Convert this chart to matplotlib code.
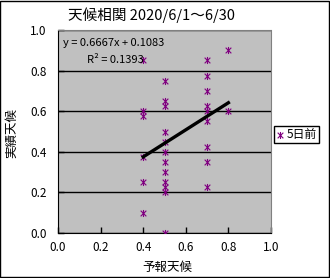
"""Forecast vs. actual weather correlation scatter (5-day-ahead forecast)."""

import matplotlib

matplotlib.use("Agg")
import matplotlib.pyplot as plt
from matplotlib.path import Path
from matplotlib.patches import Rectangle

plt.rcParams["font.family"] = ["Noto Sans CJK JP", "DejaVu Sans"]

# values
forecast_04 = [0.85, 0.6, 0.575, 0.375, 0.25, 0.1]
forecast_05 = [0.75, 0.65, 0.625, 0.5, 0.45, 0.4, 0.35, 0.3, 0.25, 0.225, 0.2, 0.0]
forecast_07 = [0.85, 0.775, 0.7, 0.625, 0.6, 0.55, 0.425, 0.35, 0.225]
forecast_08 = [0.9, 0.6]

forecast = [0.4] * len(forecast_04) + [0.5] * len(forecast_05) + [0.7] * len(forecast_07) + [0.8] * len(forecast_08)
actual = forecast_04 + forecast_05 + forecast_07 + forecast_08

slope = 0.6667
intercept = 0.1083
r_squared = 0.1393

title = "天候相関 2020/6/1～6/30"
x_label = "予報天候"
y_label = "実績天候"
series_name = "5日前"
ticks = [0.0, 0.2, 0.4, 0.6, 0.8, 1.0]

PURPLE = "#800080"

# Excel style star: an X with a vertical bar through it
star = Path(
    [(-1, -1), (1, 1), (-1, 1), (1, -1), (0, -1.25), (0, 1.25)],
    [Path.MOVETO, Path.LINETO, Path.MOVETO, Path.LINETO, Path.MOVETO, Path.LINETO],
)


def main() -> None:
    fig = plt.figure(figsize=(3.3, 2.78), dpi=100)
    fig.patch.set_facecolor("white")
    fig.patches.append(Rectangle((0.0015, 0.002), 0.996, 0.995, transform=fig.transFigure,
                                 fill=False, edgecolor="black", linewidth=1))

    ax = fig.add_axes([58 / 330, 1 - 233 / 278, 213 / 330, 203 / 278])
    ax.set_facecolor("#C0C0C0")
    ax.set_xlim(0, 1)
    ax.set_ylim(0, 1)
    ax.set_xticks(ticks)
    ax.set_yticks(ticks)
    ax.set_xticklabels([f"{t:.1f}" for t in ticks])
    ax.set_yticklabels([f"{t:.1f}" for t in ticks])
    ax.tick_params(axis="both", direction="in", length=4, width=1, color="black", labelsize=8.5)
    ax.tick_params(axis="x", pad=6)
    ax.tick_params(axis="y", pad=8)
    ax.grid(axis="y", color="black", linewidth=1)
    ax.set_axisbelow(True)
    for side in ("left", "bottom"):
        ax.spines[side].set_color("black")
    for side in ("top", "right"):
        ax.spines[side].set_color("#808080")
        ax.spines[side].set_linestyle((0, (1, 1)))

    ax.scatter(forecast, actual, marker=star, s=26, color=PURPLE, linewidths=0.8, zorder=3, label=series_name)

    x_lo, x_hi = min(forecast), max(forecast)
    ax.plot([x_lo, x_hi], [slope * x_lo + intercept, slope * x_hi + intercept],
            color="black", linewidth=2.4, zorder=4)

    ax.text(0.022, 0.935, f"y = {slope:.4f}x + {intercept:.4f}", transform=ax.transAxes,
            fontsize=8, va="center", ha="left")
    ax.text(0.135, 0.85, f"R² = {r_squared:.4f}", transform=ax.transAxes,
            fontsize=8, va="center", ha="left")

    fig.text(151 / 330, 1 - 15 / 278, title, fontsize=10.5, ha="center", va="center")
    fig.text(167 / 330, 1 - 267 / 278, x_label, fontsize=9, ha="center", va="center")
    fig.text(12 / 330, 1 - 133 / 278, y_label, fontsize=9, ha="center", va="center", rotation=90)

    leg = ax.legend(loc="center left", bbox_to_anchor=(274 / 330, 1 - 134.5 / 278),
                    bbox_transform=fig.transFigure, fancybox=False, edgecolor="black",
                    framealpha=1, fontsize=8.5, handlelength=0.7, handletextpad=0.2,
                    borderpad=0.2, borderaxespad=0)
    leg.get_frame().set_linewidth(1)

    fig.savefig("out.png", dpi=100)
    plt.close(fig)


if __name__ == "__main__":
    main()
